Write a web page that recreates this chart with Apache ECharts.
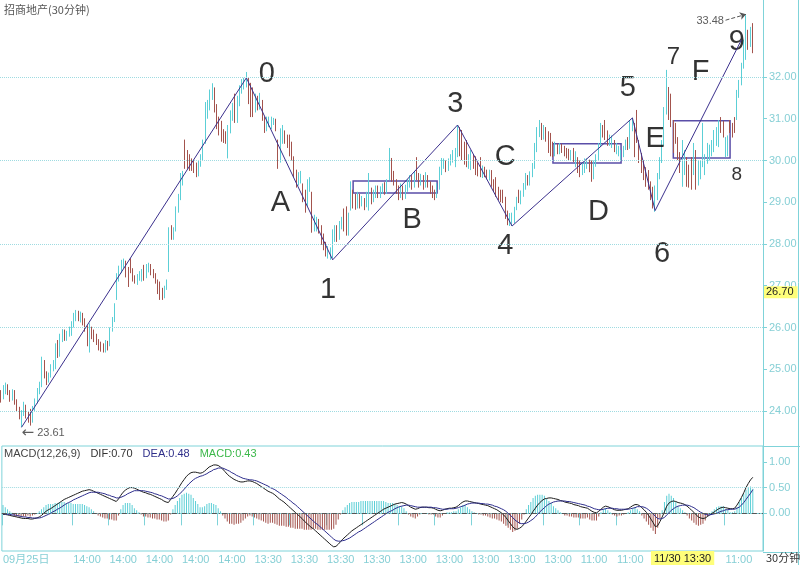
<!DOCTYPE html>
<html>
<head>
<meta charset="utf-8">
<title>招商地产(30分钟)</title>
<script src="https://cdn.jsdelivr.net/npm/echarts@6/dist/echarts.min.js"></script>
<style>
html, body { margin: 0; padding: 0; background: #fff; }
#chart { width: 800px; height: 565px; }
</style>
</head>
<body>
<div id="chart"></div>
<script>
// 30分钟K线 [开, 收, 低, 高]
var kBars = [
  [24.45,24.30,24.20,24.50],[24.30,24.55,24.28,24.62],[24.50,24.60,24.40,24.68],[24.58,24.42,24.38,24.64],
  [24.45,24.30,24.22,24.50],[24.30,24.45,24.25,24.52],[24.45,24.20,24.15,24.50],[24.22,24.05,23.98,24.28],
  [24.05,23.85,23.80,24.10],[23.70,23.95,23.61,24.02],[23.92,24.15,23.88,24.22],[24.10,23.90,23.82,24.15],
  [23.92,23.78,23.72,24.00],[23.85,23.75,23.65,24.05],[23.75,24.05,23.72,24.12],[24.05,24.25,24.00,24.30],
  [24.22,24.45,24.18,24.55],[24.45,24.60,24.40,24.70],[24.60,25.20,24.57,25.30],[25.18,24.85,24.78,25.22],
  [24.90,24.70,24.62,24.95],[24.72,24.85,24.68,24.92],[24.85,25.05,24.80,25.12],[25.00,25.15,24.95,25.22],
  [25.05,25.55,25.00,25.62],[25.60,25.35,25.27,25.70],[25.35,25.75,25.30,25.85],[25.70,25.90,25.65,25.96],
  [25.90,25.72,25.68,25.95],[25.72,25.85,25.68,25.92],[25.85,25.98,25.78,26.02],[25.95,26.10,25.80,26.15],
  [26.08,26.25,26.00,26.35],[26.25,26.35,26.15,26.42],[26.35,26.20,26.15,26.40],[26.20,26.30,26.12,26.38],
  [26.32,26.15,26.05,26.35],[26.18,25.95,25.90,26.22],[25.98,25.70,25.55,26.05],[25.65,25.95,25.40,26.10],
  [25.95,25.80,25.72,26.02],[25.82,25.70,25.65,25.95],[25.72,25.62,25.58,25.85],[25.65,25.55,25.45,25.72],
  [25.60,25.50,25.42,25.66],[25.52,25.45,25.40,25.62],[25.45,25.60,25.40,25.70],[25.60,25.50,25.45,25.68],
  [25.55,25.95,25.55,26.00],[25.95,26.15,25.90,26.25],[26.15,26.55,26.13,26.58],[26.66,27.20,26.66,27.30],
  [27.15,27.40,27.10,27.48],[27.35,27.55,27.30,27.62],[27.50,27.58,27.42,27.65],[27.55,27.30,27.20,27.60],
  [27.32,27.05,26.97,27.45],[27.55,27.35,27.30,27.66],[27.38,27.20,27.10,27.42],[27.20,27.10,27.05,27.25],
  [27.10,27.22,27.02,27.28],[27.18,27.30,27.12,27.35],[27.25,27.32,27.10,27.40],[27.40,27.20,27.12,27.50],
  [27.22,27.45,27.18,27.52],[27.40,27.50,27.32,27.55],[27.48,27.30,27.25,27.52],[27.32,27.22,27.18,27.40],
  [27.25,27.10,27.05,27.30],[27.10,26.85,26.80,27.15],[26.90,26.75,26.66,27.10],[26.80,26.72,26.66,26.95],
  [26.75,26.95,26.70,27.00],[26.95,27.05,26.90,27.15],[27.35,28.20,27.33,28.40],[28.30,28.15,28.10,28.45],
  [28.15,28.35,28.10,28.40],[28.35,28.80,28.30,28.90],[28.80,29.10,28.75,29.20],[29.10,29.55,29.05,29.70],
  [29.45,29.70,29.40,29.75],[30.20,29.85,29.80,30.50],[30.15,29.90,29.80,30.25],[30.05,29.85,29.75,30.15],
  [30.00,29.80,29.75,30.05],[29.95,29.75,29.70,30.00],[29.90,29.65,29.60,29.95],[29.65,29.90,29.62,30.00],
  [29.90,30.10,29.85,30.15],[30.05,30.45,30.00,30.50],[30.45,31.20,30.40,31.40],[31.15,31.35,31.00,31.45],
  [31.30,31.55,31.20,31.70],[31.50,31.75,31.45,31.85],[31.70,31.30,31.15,31.75],[31.30,30.95,30.75,31.35],
  [30.95,30.80,30.60,31.05],[30.80,30.55,30.45,30.95],[30.60,30.50,30.42,30.75],[30.55,30.45,30.40,30.70],
  [30.40,30.75,30.05,30.85],[30.75,31.10,30.65,31.20],[31.05,31.30,30.95,31.38],[31.40,30.95,30.90,31.60],
  [30.95,31.40,30.90,31.55],[31.40,31.70,31.30,31.80],[31.70,31.85,31.60,31.95],[31.80,31.90,31.70,31.98],
  [31.85,32.00,31.75,32.12],[31.90,31.40,31.35,31.98],[31.60,31.10,31.04,31.86],[31.45,31.15,31.04,31.75],
  [31.20,31.50,31.15,31.60],[31.48,31.25,31.20,31.55],[31.25,31.50,31.22,31.62],[31.40,31.05,30.95,31.45],
  [31.00,30.75,30.66,31.05],[30.75,30.95,30.70,31.05],[30.90,31.00,30.80,31.05],[30.92,30.98,30.75,31.05],
  [30.90,31.00,30.85,31.02],[30.98,30.80,30.70,31.00],[30.45,29.95,29.80,30.50],[30.00,30.60,29.95,30.77],
  [30.55,30.75,30.40,30.85],[30.65,30.45,30.40,30.72],[30.50,30.35,30.30,30.62],[30.40,30.20,30.10,30.62],
  [30.25,30.05,30.00,30.45],[30.05,29.70,29.60,30.10],[29.72,29.45,29.35,29.78],[29.45,29.65,29.40,29.72],
  [29.60,29.68,29.45,29.75],[29.40,29.10,29.00,29.45],[29.15,28.90,28.75,29.30],[28.95,29.40,28.90,29.55],
  [29.35,29.50,29.25,29.60],[29.20,28.50,28.27,29.25],[28.40,28.60,28.30,28.70],[28.45,28.55,28.30,28.65],
  [28.55,28.35,28.25,28.60],[28.40,28.10,27.98,28.45],[28.15,27.95,27.85,28.25],[28.00,27.80,27.70,28.05],
  [27.75,27.88,27.65,27.95],[27.70,27.85,27.62,27.92],[27.80,28.25,27.66,28.35],[28.20,28.40,28.05,28.45],
  [28.40,28.15,28.05,28.45],[28.15,28.45,28.10,28.55],[28.45,28.60,28.35,28.65],[28.60,28.40,28.30,28.85],
  [28.50,28.25,28.20,28.90],[28.25,28.65,28.20,28.75],[28.85,29.15,28.80,29.50],[29.15,28.95,28.85,29.30],
  [29.00,28.90,28.82,29.20],[28.90,29.10,28.85,29.25],[29.10,28.95,28.85,29.20],[28.95,29.05,28.90,29.15],
  [29.05,28.90,28.81,29.10],[28.90,29.15,28.88,29.25],[29.10,29.30,28.80,29.70],[29.30,29.05,28.95,29.35],
  [29.05,29.20,29.00,29.30],[29.20,29.35,29.10,29.40],[29.35,29.15,29.10,29.40],[29.15,29.30,29.10,29.38],
  [29.28,29.40,29.20,29.45],[29.40,29.25,29.18,29.48],[29.25,29.45,29.20,29.55],[29.55,30.10,29.53,30.30],
  [30.00,29.60,29.49,30.06],[29.65,29.45,29.40,29.75],[29.50,29.30,29.20,29.55],[29.35,29.15,29.05,29.40],
  [29.15,29.35,29.10,29.45],[29.35,29.15,29.05,29.40],[29.15,29.35,29.08,29.42],[29.35,29.50,29.25,29.55],
  [29.45,29.60,29.35,29.65],[29.60,29.40,29.30,29.65],[29.40,29.65,29.35,29.75],[29.90,29.60,29.53,30.08],
  [29.65,29.45,29.35,29.70],[29.45,29.60,29.40,29.68],[29.60,29.40,29.30,29.65],[29.40,29.65,29.35,29.72],
  [29.60,29.45,29.35,29.65],[29.45,29.30,29.20,29.50],[29.35,29.20,29.10,29.40],[29.25,29.15,29.05,29.30],
  [29.15,29.35,29.10,29.45],[29.35,29.75,29.30,29.85],[29.70,29.95,29.65,30.06],[29.90,30.00,29.80,30.05],
  [29.95,29.80,29.72,30.00],[29.80,29.95,29.75,30.05],[29.95,30.10,29.88,30.15],[30.05,30.15,29.95,30.25],
  [30.10,30.25,29.84,30.30],[30.25,30.70,30.08,30.85],[30.70,30.20,30.10,30.80],[30.25,30.05,30.01,30.73],
  [30.15,29.95,29.90,30.45],[30.00,29.90,29.84,30.49],[29.90,30.05,29.80,30.15],[29.95,30.15,29.77,30.25],
  [30.10,29.85,29.80,30.15],[29.90,29.75,29.65,30.10],[29.80,29.70,29.62,29.95],[29.85,29.65,29.60,30.08],
  [29.65,29.80,29.58,29.88],[29.80,29.65,29.60,29.85],[29.70,29.60,29.55,29.78],[29.60,29.72,29.52,29.78],
  [29.70,29.45,29.37,29.77],[29.50,29.35,29.25,29.55],[29.40,29.20,29.13,29.60],[29.25,29.10,29.05,29.37],
  [29.15,29.05,29.00,29.30],[29.10,29.00,28.98,29.30],[29.00,28.70,28.60,29.13],[28.75,28.55,28.45,28.80],
  [28.50,28.65,28.43,28.74],[28.55,28.70,28.43,28.75],[28.70,28.85,28.50,28.89],[28.85,29.05,28.81,29.13],
  [29.20,29.00,28.98,29.30],[29.00,29.20,28.95,29.28],[29.15,29.40,29.13,29.46],[29.40,29.60,29.30,29.70],
  [29.60,29.45,29.40,29.65],[29.45,29.65,29.40,29.74],[29.62,29.85,29.60,29.94],[29.85,30.30,29.80,30.42],
  [30.25,30.65,30.20,30.80],[30.60,30.85,30.56,30.97],[30.85,30.60,30.49,30.90],[30.60,30.75,30.50,30.85],
  [30.75,30.55,30.45,30.80],[30.60,30.30,30.18,30.70],[30.35,30.20,30.10,30.66],[30.25,30.15,30.08,30.45],
  [30.15,30.35,30.10,30.45],[30.35,30.20,30.15,30.40],[30.20,30.38,30.15,30.42],[30.35,30.22,30.18,30.40],
  [30.25,30.15,30.10,30.35],[30.20,30.10,30.05,30.30],[30.15,30.05,30.00,30.28],[30.05,30.20,30.00,30.25],
  [30.20,30.00,29.96,30.30],[30.00,30.15,29.84,30.22],[30.05,29.80,29.70,30.08],[29.85,29.70,29.60,30.00],
  [29.70,29.85,29.65,29.95],[29.82,29.95,29.70,30.05],[29.90,30.00,29.80,30.05],[29.98,29.80,29.72,30.02],
  [29.85,29.60,29.49,30.00],[29.60,29.90,29.55,30.00],[29.90,30.10,29.85,30.15],[30.05,30.30,30.01,30.42],
  [30.35,30.75,30.32,30.90],[30.75,30.60,30.55,30.85],[30.80,30.55,30.49,30.97],[30.55,30.40,30.35,30.72],
  [30.40,30.55,30.35,30.62],[30.45,30.55,30.30,30.60],[30.45,30.25,30.20,30.49],[30.25,30.35,30.15,30.42],
  [30.20,30.30,30.10,30.35],[30.10,30.20,30.00,30.25],[30.15,30.30,30.08,30.35],[30.30,30.45,30.25,30.50],
  [30.50,30.30,30.25,30.56],[30.30,30.85,30.28,30.97],[30.85,31.00,30.70,31.02],[30.85,30.30,30.08,30.90],
  [30.95,30.50,30.42,31.21],[30.45,30.05,29.94,30.49],[30.10,29.85,29.70,30.18],[29.90,29.70,29.53,30.00],
  [29.75,29.50,29.37,29.84],[29.55,29.40,29.30,29.77],[29.45,29.15,29.05,29.50],[29.20,28.95,28.85,29.37],
  [28.90,29.30,28.77,29.40],[29.30,29.60,29.05,29.70],[29.60,29.95,29.55,30.08],[29.95,30.40,29.94,30.49],
  [30.40,31.15,30.35,31.28],[31.15,31.90,31.10,32.17],[31.70,31.10,30.97,31.76],[31.20,30.85,30.80,31.60],
  [30.90,30.35,30.18,30.97],[30.75,30.45,30.40,30.90],[30.50,30.10,30.01,30.56],[30.15,29.80,29.70,30.20],
  [29.50,30.20,29.37,30.49],[29.80,30.05,29.65,30.25],[30.00,29.55,29.37,30.08],[29.70,29.45,29.35,29.90],
  [29.90,29.40,29.30,30.08],[29.70,30.20,29.65,30.42],[30.20,29.45,29.30,30.25],[29.50,29.85,29.40,30.00],
  [29.65,29.90,29.55,30.00],[29.90,30.45,29.84,30.90],[29.75,30.05,29.65,30.15],[29.95,30.15,29.92,30.42],
  [30.05,30.30,30.00,30.38],[30.15,30.40,30.10,30.49],[30.25,30.55,30.20,30.73],[30.40,30.70,30.35,30.80],
  [30.50,30.85,30.32,30.97],[30.95,30.70,30.66,31.04],[30.85,30.60,30.55,30.95],[30.15,30.45,30.08,30.56],
  [30.20,30.50,30.10,30.60],[30.90,30.70,30.66,30.97],[30.80,30.60,30.55,30.90],[30.95,30.75,30.66,31.04],
  [31.00,31.60,30.97,31.69],[31.60,31.85,31.50,31.93],[31.85,32.25,31.80,32.34],[32.25,32.80,32.20,32.89],
  [32.45,33.40,32.41,33.48],[33.10,32.70,32.65,33.13],[32.75,33.10,32.72,33.20],[33.20,32.65,32.57,33.29]
];

// MACD(12,26,9)
var dif = [
  -0.02,-0.02,-0.03,-0.04,-0.05,-0.06,-0.07,-0.08,-0.09,-0.10,-0.10,-0.10,-0.11,-0.11,-0.10,-0.09,-0.07,
  -0.04,0.00,0.04,0.07,0.09,0.12,0.15,0.18,0.21,0.24,0.27,0.29,0.31,0.33,0.35,0.37,0.39,0.41,0.43,0.44,0.45,0.46,
  0.45,0.43,0.41,0.39,0.37,0.35,0.33,0.31,0.29,0.27,0.25,0.23,
  0.28,0.35,0.41,0.45,0.48,0.50,0.50,
  0.49,0.47,0.45,0.43,0.41,0.40,0.38,0.37,0.35,0.33,0.31,0.29,0.27,0.24,0.22,0.21,
  0.27,0.33,0.39,0.46,0.53,0.60,0.66,0.72,0.76,0.79,0.80,0.80,0.79,0.78,0.79,0.82,0.86,0.90,0.92,0.94,0.94,0.93,
  0.90,0.86,0.81,0.76,0.72,0.69,0.66,0.64,0.62,0.61,
  0.61,0.62,0.63,0.63,0.62,0.60,0.58,
  0.55,0.52,0.49,0.46,0.43,0.41,0.39,0.36,0.32,0.28,0.25,0.22,0.18,0.14,0.10,0.06,0.02,
  -0.02,-0.06,-0.10,-0.15,-0.19,-0.23,-0.27,-0.30,-0.34,-0.38,-0.42,-0.46,-0.50,-0.54,-0.58,-0.62,-0.65,
  -0.64,-0.60,-0.55,-0.50,-0.46,-0.42,-0.38,-0.34,-0.31,-0.28,-0.25,-0.22,-0.19,-0.16,-0.13,
  -0.10,-0.07,-0.04,-0.01,0.02,0.05,0.08,0.10,0.12,0.14,0.16,0.18,0.19,0.20,0.21,
  0.20,0.18,0.15,0.12,0.10,0.08,0.09,0.11,0.12,0.12,0.12,0.11,0.11,0.10,0.08,0.06,0.05,
  0.06,0.08,0.09,0.10,0.10,0.11,0.12,0.15,0.19,0.22,0.24,0.24,
  0.23,0.22,0.21,0.20,0.19,0.18,0.17,0.16,0.15,0.13,0.11,0.09,0.07,0.04,0.01,
  -0.03,-0.08,-0.14,-0.20,-0.26,-0.30,-0.31,-0.29,-0.26,
  -0.21,-0.15,-0.09,-0.03,0.04,0.10,0.16,0.21,0.25,0.28,0.29,0.30,0.30,0.29,
  0.28,0.27,0.25,0.24,0.22,0.21,0.20,0.19,0.17,0.16,0.15,0.13,0.12,0.11,0.10,0.07,0.04,0.02,0.01,
  0.04,0.08,0.12,0.14,0.13,0.11,0.09,0.07,0.06,
  0.06,0.06,0.07,0.08,0.09,0.12,0.15,0.17,0.17,
  0.15,0.11,0.07,0.02,-0.04,-0.11,-0.18,-0.26,
  -0.24,-0.16,-0.07,0.03,0.14,0.20,0.23,0.24,
  0.23,0.21,0.20,0.19,0.17,0.14,0.10,0.06,0.02,-0.03,-0.07,-0.09,-0.10,
  -0.09,-0.06,-0.03,0.00,0.03,0.06,0.09,0.11,0.12,0.11,0.10,0.09,0.09,0.10,
  0.16,0.23,0.31,0.40,0.50,0.58,0.65,0.70
];
var dea = [
  -0.01,-0.01,-0.02,-0.02,-0.03,-0.03,-0.04,-0.05,-0.06,-0.07,
  -0.07,-0.08,-0.08,-0.09,-0.09,-0.09,-0.09,-0.08,-0.06,-0.04,
  -0.02,0.00,0.03,0.05,0.08,0.10,0.13,0.16,0.19,0.21,
  0.23,0.26,0.28,0.30,0.32,0.34,0.36,0.38,0.40,0.41,
  0.41,0.41,0.41,0.40,0.39,0.38,0.36,0.35,0.33,0.32,
  0.30,0.30,0.31,0.33,0.35,0.38,0.40,0.42,0.44,0.44,
  0.44,0.44,0.44,0.43,0.42,0.41,0.40,0.38,0.37,0.35,
  0.34,0.32,0.30,0.28,0.28,0.29,0.31,0.34,0.38,0.42,
  0.47,0.52,0.57,0.61,0.65,0.68,0.70,0.72,0.73,0.75,
  0.77,0.80,0.82,0.85,0.86,0.88,0.88,0.88,0.86,0.84,
  0.82,0.79,0.77,0.74,0.72,0.70,0.68,0.67,0.66,0.65,
  0.65,0.64,0.63,0.61,0.59,0.57,0.55,0.53,0.50,0.48,
  0.46,0.43,0.40,0.37,0.34,0.31,0.27,0.24,0.20,0.17,
  0.13,0.09,0.05,0.01,-0.03,-0.07,-0.11,-0.15,-0.19,-0.22,
  -0.26,-0.30,-0.34,-0.38,-0.42,-0.46,-0.50,-0.53,-0.54,-0.54,
  -0.53,-0.52,-0.50,-0.48,-0.45,-0.42,-0.39,-0.36,-0.34,-0.31,
  -0.28,-0.25,-0.22,-0.19,-0.16,-0.13,-0.10,-0.07,-0.04,-0.01,
  0.02,0.04,0.06,0.09,0.11,0.13,0.14,0.15,0.16,0.16,
  0.15,0.14,0.13,0.12,0.12,0.12,0.12,0.12,0.12,0.12,
  0.11,0.11,0.10,0.09,0.08,0.08,0.08,0.09,0.09,0.09,
  0.10,0.11,0.13,0.14,0.16,0.18,0.19,0.20,0.20,0.20,
  0.20,0.19,0.19,0.18,0.18,0.17,0.16,0.14,0.13,0.11,
  0.09,0.07,0.04,0.00,-0.04,-0.08,-0.13,-0.16,-0.19,-0.20,
  -0.20,-0.19,-0.17,-0.14,-0.11,-0.07,-0.02,0.03,0.07,0.11,
  0.15,0.18,0.20,0.22,0.23,0.24,0.24,0.24,0.24,0.23,
  0.23,0.22,0.21,0.20,0.19,0.18,0.17,0.16,0.14,0.13,
  0.11,0.09,0.08,0.07,0.07,0.08,0.09,0.10,0.10,0.10,
  0.09,0.09,0.08,0.08,0.08,0.08,0.08,0.09,0.10,0.11,
  0.13,0.13,0.13,0.12,0.10,0.07,0.03,-0.01,-0.06,-0.10,
  -0.11,-0.10,-0.08,-0.03,0.01,0.06,0.09,0.12,0.14,0.15,
  0.16,0.16,0.16,0.15,0.13,0.11,0.08,0.05,0.02,0.00,
  -0.02,-0.03,-0.03,-0.02,-0.01,0.00,0.02,0.04,0.05,0.07,
  0.07,0.08,0.08,0.08,0.10,0.12,0.16,0.21,0.27,0.33,
  0.39,0.46
];
var macdBar = [
  0.16,0.12,0.08,0.04,0.01,-0.06,-0.06,-0.06,-0.06,-0.06,
  -0.06,-0.04,-0.06,-0.04,-0.02,0.00,0.04,0.08,0.12,0.16,
  0.18,0.18,0.18,0.20,0.20,0.22,0.22,0.22,0.20,0.20,
  0.20,0.18,0.18,0.18,0.18,0.18,0.16,0.14,0.12,0.08,
  0.04,0.00,-0.04,-0.06,-0.08,-0.10,-0.10,-0.12,-0.12,-0.14,
  -0.14,-0.04,0.08,0.16,0.20,0.20,0.20,0.16,0.10,0.06,
  0.02,-0.02,-0.06,-0.06,-0.08,-0.08,-0.10,-0.10,-0.12,-0.12,
  -0.14,-0.16,-0.16,-0.14,-0.02,0.08,0.16,0.24,0.30,0.36,
  0.38,0.40,0.38,0.36,0.30,0.24,0.18,0.12,0.12,0.14,
  0.18,0.20,0.20,0.18,0.16,0.10,0.04,-0.04,-0.10,-0.16,
  -0.20,-0.20,-0.22,-0.20,-0.20,-0.18,-0.14,-0.10,-0.06,-0.04,
  -0.06,-0.08,-0.10,-0.12,-0.14,-0.16,-0.18,-0.20,-0.18,-0.18,
  -0.20,-0.22,-0.24,-0.24,-0.24,-0.26,-0.26,-0.28,-0.28,-0.30,
  -0.30,-0.30,-0.30,-0.32,-0.32,-0.32,-0.32,-0.30,-0.30,-0.32,
  -0.32,-0.32,-0.32,-0.32,-0.32,-0.32,-0.30,-0.22,-0.12,-0.02,
  0.06,0.12,0.16,0.20,0.22,0.22,0.22,0.22,0.24,0.24,
  0.24,0.24,0.24,0.24,0.24,0.24,0.24,0.24,0.24,0.22,
  0.20,0.20,0.20,0.18,0.16,0.14,0.14,0.10,0.04,-0.02,
  -0.06,-0.08,-0.10,-0.06,-0.02,0.00,0.00,0.00,-0.02,-0.02,
  -0.02,-0.06,-0.08,-0.08,-0.04,0.00,0.02,0.02,0.02,0.04,
  0.04,0.08,0.12,0.16,0.16,0.12,0.08,0.04,0.02,0.00,
  -0.02,-0.02,-0.04,-0.04,-0.06,-0.08,-0.10,-0.10,-0.12,-0.14,
  -0.16,-0.20,-0.24,-0.28,-0.32,-0.36,-0.34,-0.30,-0.20,-0.12,
  -0.02,0.08,0.16,0.22,0.30,0.34,0.36,0.36,0.36,0.34,
  0.28,0.24,0.20,0.14,0.10,0.06,0.02,0.00,-0.04,-0.04,
  -0.06,-0.06,-0.08,-0.08,-0.08,-0.10,-0.10,-0.10,-0.08,-0.12,
  -0.14,-0.14,-0.14,-0.06,0.02,0.08,0.10,0.06,0.02,-0.02,
  -0.04,-0.06,-0.04,-0.04,-0.02,0.00,0.02,0.06,0.10,0.12,
  0.08,0.04,-0.04,-0.10,-0.16,-0.22,-0.28,-0.34,-0.40,-0.28,
  -0.10,0.06,0.22,0.34,0.38,0.34,0.30,0.22,0.14,0.10,
  0.06,0.02,-0.04,-0.10,-0.14,-0.18,-0.22,-0.24,-0.22,-0.20,
  -0.14,-0.06,0.00,0.04,0.08,0.12,0.14,0.14,0.14,0.08,
  0.06,0.02,0.02,0.04,0.12,0.22,0.30,0.38,0.46,0.50,
  0.52,0.48
];

// 时间轴标签
var slotCount = 336;
var tickIdx = [0, 31, 47, 63, 79, 95, 111, 127, 143, 159, 175, 191, 207, 223, 239, 255, 271, 319];
var tickText = ['09月25日', '14:00', '14:00', '14:00', '14:00', '14:00', '13:30', '13:30', '13:30', '13:30',
  '13:00', '13:00', '13:00', '13:00', '13:00', '11:00', '11:00', '11:00'];
var priceTicks = [24, 25, 26, 27, 28, 29, 30, 31, 32];
var priceGrid = [24, 26, 28, 30, 32];
var macdTicks = [0, 0.5, 1];

// 波浪转折点 [序号, 价格]
var waveTurns = [[9, 23.61], [108, 31.98], [146, 27.62], [201, 30.85], [225, 28.43], [278, 31.02], [288, 28.80], [326, 32.89]];
// 波浪标注
var waveText = ['0', 'A', '1', 'B', '3', 'C', '4', 'D', '5', 'E', '6', '7', 'F', '8', '9'];
var waveIdx = [117, 123, 144, 181, 200, 222, 222, 263, 276, 288, 291, 296, 308, 324, 324];
var wavePrice = [32.07, 28.99, 26.90, 28.57, 31.35, 30.08, 27.95, 28.77, 31.74, 30.51, 27.77, 32.46, 32.12, 29.65, 32.84];
// 整理区间 [起, 止, 下沿, 上沿]
var boxes = [[155, 192, 29.22, 29.51], [243, 273, 29.94, 30.40], [296, 321, 30.06, 30.95]];

var lowMark = [9, 23.61];
var highMark = [328, 33.48];
var cursorPrice = 26.70;
var cursorIdx = 300;
var cursorText = '11/30 13:30';

// ---------- 绘图 ----------
var upColor = '#5ccfd6';
var downColor = '#a3534d';
var axisColor = '#7fd3d9';
var labelColor = '#86cfd5';
var hidden = 'rgba(0,0,0,0)';
var waveFont = {'7': 24, '8': 19};

var cats = [];
for (var i = 0; i < slotCount; i++) cats.push(String(i));

function showTick(index) { return tickIdx.indexOf(index) >= 0; }

var chart = echarts.init(document.getElementById('chart'));

var option = {
  animation: false,
  textStyle: { fontFamily: 'Liberation Sans, Noto Sans CJK SC, sans-serif' },
  title: [
    {
      text: '招商地产(30分钟)', left: -1, top: -1,
      textStyle: { fontSize: 11, fontWeight: 'normal', color: '#555', fontFamily: 'Noto Sans CJK SC' }
    },
    {
      text: '{a|MACD(12,26,9)}  {b|DIF:0.70}  {c|DEA:0.48}  {d|MACD:0.43}',
      left: -1, top: 440,
      textStyle: {
        fontWeight: 'normal',
        rich: {
          a: { fontSize: 11, fontWeight: 'normal', color: '#444' },
          b: { fontSize: 11, fontWeight: 'normal', color: '#333' },
          c: { fontSize: 11, fontWeight: 'normal', color: '#2f2f8a' },
          d: { fontSize: 11, fontWeight: 'normal', color: '#3cb84a' }
        }
      }
    }
  ],
  grid: [
    { left: 0, top: 0, width: 763, height: 446 },
    { left: 0, top: 446, width: 763, height: 106, show: true, borderColor: axisColor, borderWidth: 1 }
  ],
  xAxis: [
    {
      type: 'category', gridIndex: 0, data: cats,
      axisLine: { show: false }, axisTick: { show: false }, axisLabel: { show: false }, splitLine: { show: false }
    },
    {
      type: 'category', gridIndex: 1, data: cats,
      axisLine: { lineStyle: { color: axisColor } },
      axisTick: { show: true, interval: showTick, length: 12, lineStyle: { color: axisColor } },
      axisLabel: {
        interval: showTick, align: 'left', color: labelColor, fontSize: 11, margin: 3,
        formatter: function (v, idx) { var k = tickIdx.indexOf(idx); return k >= 0 ? tickText[k] : ''; }
      },
      splitLine: { show: false }
    }
  ],
  yAxis: [
    {
      type: 'value', gridIndex: 0, position: 'right', min: 23.161, max: 33.844,
      axisLine: { show: true, lineStyle: { color: axisColor } },
      axisTick: { show: true, customValues: priceTicks, length: 4, lineStyle: { color: axisColor } },
      axisLabel: {
        customValues: priceTicks, color: labelColor, fontSize: 11, margin: 6,
        formatter: function (v) { return v.toFixed(2); }
      },
      splitLine: { show: false }
    },
    {
      type: 'value', gridIndex: 1, position: 'right', min: -0.731, max: 1.308,
      axisLine: { show: true, lineStyle: { color: axisColor } },
      axisTick: { show: true, customValues: macdTicks, length: 4, lineStyle: { color: axisColor } },
      axisLabel: {
        customValues: macdTicks, color: labelColor, fontSize: 11, margin: 6,
        formatter: function (v) { return v.toFixed(2); }
      },
      splitLine: { show: false }
    }
  ],
  series: [
    {
      type: 'candlestick', xAxisIndex: 0, yAxisIndex: 0, data: kBars, barWidth: 1, silent: true,
      itemStyle: { color: upColor, color0: downColor, borderColor: upColor, borderColor0: downColor, borderWidth: 1 },
      markLine: {
        silent: true, symbol: ['none', 'none'],
        data: priceGrid.map(function (p) {
          return { yAxis: p, label: { show: false }, lineStyle: { type: 'dotted', color: '#9fdbe1', width: 1 } };
        }).concat([{
          yAxis: cursorPrice, lineStyle: { color: hidden, width: 0 },
          label: {
            show: true, position: 'end', distance: 1, offset: [0, -6],
            formatter: cursorPrice.toFixed(2), backgroundColor: '#ffff7a', color: '#222',
            fontSize: 11, padding: [1, 4, 0, 2]
          }
        }])
      },
      markArea: {
        silent: true,
        itemStyle: { color: hidden, borderColor: '#5a4ea8', borderWidth: 1.5 },
        data: boxes.map(function (b) { return [{ xAxis: b[0], yAxis: b[3] }, { xAxis: b[1], yAxis: b[2] }]; })
      }
    },
    {
      type: 'line', xAxisIndex: 0, yAxisIndex: 0, data: waveTurns, symbol: 'none', silent: true,
      lineStyle: { color: '#3a2f8c', width: 1 }
    },
    {
      type: 'scatter', xAxisIndex: 0, yAxisIndex: 0, symbolSize: 0, silent: true,
      data: waveText.map(function (t, k) {
        return {
          value: [waveIdx[k], wavePrice[k]],
          label: { show: true, position: 'inside', formatter: t, fontSize: waveFont[t] || 29, color: '#000' }
        };
      })
    },
    {
      type: 'scatter', xAxisIndex: 0, yAxisIndex: 0, symbolSize: 0, silent: true,
      data: [
        { value: lowMark, label: { show: true, position: 'inside', align: 'left', offset: [0, 6],
          formatter: '{ar|\u2190} ' + lowMark[1].toFixed(2), fontSize: 11, color: '#333',
          rich: { ar: { fontSize: 15, color: '#333', fontFamily: 'DejaVu Sans' } } } },
        { value: highMark, label: { show: true, position: 'inside', align: 'right', offset: [-22, 6],
          formatter: highMark[1].toFixed(2), fontSize: 11, color: '#333' } }
      ],
      markLine: {
        silent: true, symbol: ['none', 'arrow'], symbolSize: 6,
        lineStyle: { type: 'dashed', color: '#555', width: 1 },
        label: { show: false },
        data: [[{ coord: [highMark[0] - 9, highMark[1] - 0.12] }, { coord: [highMark[0], highMark[1] + 0.02] }]]
      }
    },
    {
      type: 'bar', xAxisIndex: 1, yAxisIndex: 1, data: macdBar, barWidth: 1, silent: true,
      itemStyle: { color: function (p) { return p.value >= 0 ? upColor : downColor; } },
      markLine: {
        silent: true, symbol: ['none', 'none'],
        data: [
          { yAxis: 0, label: { show: false }, lineStyle: { type: [5, 2, 1, 2], color: '#555', width: 1 } },
          { yAxis: 0.5, label: { show: false }, lineStyle: { type: 'dotted', color: '#9fdbe1', width: 1 } },
          {
            xAxis: cursorIdx, lineStyle: { color: hidden, width: 0 },
            label: {
              show: true, position: 'start', distance: 0, formatter: cursorText,
              backgroundColor: '#ffff7a', color: '#222', fontSize: 11, padding: [2, 3, 1, 3]
            }
          }
        ]
      }
    },
    {
      type: 'line', xAxisIndex: 1, yAxisIndex: 1, data: dif, symbol: 'none', silent: true,
      lineStyle: { color: '#1c1c1c', width: 1 }
    },
    {
      type: 'line', xAxisIndex: 1, yAxisIndex: 1, data: dea, symbol: 'none', silent: true,
      lineStyle: { color: '#2d2d8c', width: 1 }
    }
  ],
  graphic: [
    { type: 'line', shape: { x1: 763, y1: 446.5, x2: 800, y2: 446.5 }, style: { stroke: axisColor, lineWidth: 1 } },
    { type: 'line', shape: { x1: 763, y1: 552.5, x2: 800, y2: 552.5 }, style: { stroke: axisColor, lineWidth: 1 } },
    { type: 'line', shape: { x1: 798.5, y1: 0, x2: 798.5, y2: 565 }, style: { stroke: axisColor, lineWidth: 1 } },
    { type: 'text', left: 766, top: 552, style: { text: '30分钟', fontSize: 11, fill: '#333', fontFamily: 'Noto Sans CJK SC' } }
  ]
};

chart.setOption(option);
</script>
</body>
</html>
